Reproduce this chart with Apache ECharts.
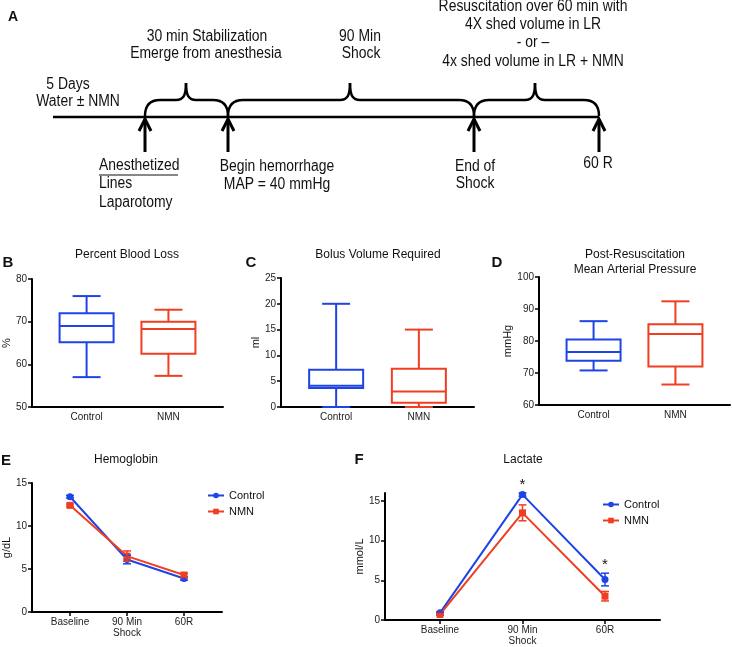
<!DOCTYPE html>
<html><head><meta charset="utf-8">
<script src="https://cdn.jsdelivr.net/npm/echarts@6/dist/echarts.min.js"></script>
<style>html,body{margin:0;padding:0;background:#fff}#c{width:732px;height:647px}</style>
</head><body><div id="c"></div>
<script>
// ---------- DATA ----------
const boxCategories = ['Control', 'NMN'];
// [min, Q1, median, Q3, max]
const bloodLossControl = [57, 65.2, 69, 72, 76];
const bloodLossNMN = [57.3, 62.5, 68.3, 70, 72.8];
const bolusControl = [0, 3.7, 4.1, 7.2, 20];
const bolusNMN = [0, 0.8, 3, 7.4, 15];
const mapControl = [70.8, 73.8, 76.6, 80.5, 86.2];
const mapNMN = [66.4, 72, 82.2, 85.2, 92.4];

const timeCategories = ['Baseline', '90 Min\nShock', '60R'];
const hbControlMean = [13.4, 6.1, 3.9];
const hbControlErr = [0.15, 0.5, 0.2];
const hbNMNMean = [12.4, 6.5, 4.3];
const hbNMNErr = [0.15, 0.6, 0.2];
const lacControlMean = [0.9, 15.8, 5.1];
const lacControlErr = [0.1, 0.2, 0.8];
const lacNMNMean = [0.7, 13.5, 3.0];
const lacNMNErr = [0.1, 1.0, 0.6];
const lacSignificant = [false, true, true];

const hbTicks = [0, 5, 10, 15];
const lacTicks = [0, 5, 10, 15];
const bloodLossTicks = [50, 60, 70, 80];
const bolusTicks = [0, 5, 10, 15, 20, 25];
const mapTicks = [60, 70, 80, 90, 100];

// ---------- STYLE ----------
const BLUE = '#1f44e6';
const RED = '#ef3e22';
const FONT = '"Liberation Sans", Arial, Helvetica, sans-serif';

const chart = echarts.init(document.getElementById('c'), null, {renderer: 'canvas'});

function boxRender(color) {
  return function (params, api) {
    const x = api.value(0);
    const lo = api.coord([x, api.value(1)]);
    const q1 = api.coord([x, api.value(2)]);
    const md = api.coord([x, api.value(3)]);
    const q3 = api.coord([x, api.value(4)]);
    const hi = api.coord([x, api.value(5)]);
    const cx = lo[0], hw = 27, cw = 14;
    const st = () => ({stroke: color, lineWidth: 2, fill: null});
    return {type: 'group', children: [
      {type: 'line', shape: {x1: cx, y1: q3[1], x2: cx, y2: hi[1]}, style: st()},
      {type: 'line', shape: {x1: cx - cw, y1: hi[1], x2: cx + cw, y2: hi[1]}, style: st()},
      {type: 'line', shape: {x1: cx, y1: q1[1], x2: cx, y2: lo[1]}, style: st()},
      {type: 'line', shape: {x1: cx - cw, y1: lo[1], x2: cx + cw, y2: lo[1]}, style: st()},
      {type: 'rect', shape: {x: cx - hw, y: q3[1], width: 2 * hw, height: q1[1] - q3[1]}, style: st()},
      {type: 'line', shape: {x1: cx - hw, y1: md[1], x2: cx + hw, y2: md[1]}, style: st()}
    ]};
  };
}
function errRender(color) {
  return function (params, api) {
    const x = api.value(0), m = api.value(1), e = api.value(2);
    const top = api.coord([x, m + e]);
    const bot = api.coord([x, m - e]);
    const st = () => ({stroke: color, lineWidth: 1.5});
    return {type: 'group', children: [
      {type: 'line', shape: {x1: top[0], y1: top[1], x2: bot[0], y2: bot[1]}, style: st()},
      {type: 'line', shape: {x1: top[0] - 4, y1: top[1], x2: top[0] + 4, y2: top[1]}, style: st()},
      {type: 'line', shape: {x1: bot[0] - 4, y1: bot[1], x2: bot[0] + 4, y2: bot[1]}, style: st()}
    ]};
  };
}
function starRender(params, api) {
  const p = api.coord([api.value(0), api.value(1)]);
  return {type: 'text', x: p[0], y: p[1] - 1, style: {text: '*', fontSize: 15, fontFamily: FONT, fill: '#111', align: 'center', verticalAlign: 'bottom'}};
}

function yAx(grid, min, max, ticks, name, gap) {
  return {
    type: 'value', gridIndex: grid, min: min, max: max,
    name: name, nameLocation: 'middle', nameRotate: 90, nameGap: gap,
    nameTextStyle: {fontSize: 11, color: '#111', fontFamily: FONT},
    axisLine: {show: true, onZero: false, lineStyle: {color: '#000', width: 2}},
    axisTick: {show: true, length: 4, customValues: ticks, lineStyle: {color: '#000', width: 1.5}},
    axisLabel: {fontSize: 10, color: '#222', margin: 5, fontFamily: FONT, customValues: ticks},
    splitLine: {show: false}
  };
}
function xAx(grid, cats, max, showTick) {
  const vals = cats.map((c, i) => i);
  return {
    type: 'value', gridIndex: grid, min: -2 / 3, max: max,
    axisLine: {show: true, onZero: false, lineStyle: {color: '#000', width: 2}},
    axisTick: {show: showTick, length: 4, customValues: vals, lineStyle: {color: '#000', width: 1.5}},
    axisLabel: {fontSize: 10, color: '#222', margin: 5, fontFamily: FONT, lineHeight: 11,
      customValues: vals, formatter: v => cats[Math.round(v)]},
    splitLine: {show: false}
  };
}

const pts = arr => arr.map((v, i) => [i, v]);
const errs = (m, e) => m.map((v, i) => [i, v, e[i]]);

// ---------- PANEL A (schematic) ----------
const tl = {y: 117, x0: 53, stops: [145, 228, 474, 599]};
const BR = {stroke: '#000', lineWidth: 2.5, fill: null};
function brace(x1, x2, xm) {
  const yb = 116, yh = 100, yp = 83;
  return [
    {type: 'bezierCurve', shape: {x1: x1, y1: yb, cpx1: x1, cpy1: yh + 6, cpx2: x1 + 5, cpy2: yh, x2: x1 + 15, y2: yh}, style: BR},
    {type: 'line', shape: {x1: x1 + 15, y1: yh, x2: xm - 10, y2: yh}, style: BR},
    {type: 'bezierCurve', shape: {x1: xm - 10, y1: yh, cpx1: xm - 3, cpy1: yh, cpx2: xm, cpy2: yh - 4, x2: xm, y2: yp}, style: BR},
    {type: 'bezierCurve', shape: {x1: xm, y1: yp, cpx1: xm, cpy1: yh - 4, cpx2: xm + 3, cpy2: yh, x2: xm + 10, y2: yh}, style: BR},
    {type: 'line', shape: {x1: xm + 10, y1: yh, x2: x2 - 15, y2: yh}, style: BR},
    {type: 'bezierCurve', shape: {x1: x2 - 15, y1: yh, cpx1: x2 - 5, cpy1: yh, cpx2: x2, cpy2: yh + 6, x2: x2, y2: yb}, style: BR}
  ];
}
function aText(t, x, y, align) {
  return {type: 'text', x: x, y: y, scaleX: 0.87, style: {text: t, fontSize: 16, fontFamily: FONT, fill: '#111', align: align || 'center', verticalAlign: 'middle'}};
}
function label(t, x, y, size, bold, align) {
  return {type: 'text', x: x, y: y, style: {text: t, fontSize: size, fontWeight: bold ? 'bold' : 'normal', fontFamily: FONT, fill: '#111', align: align || 'center', verticalAlign: 'middle'}};
}
const graphics = [];
graphics.push({type: 'line', shape: {x1: tl.x0, y1: tl.y, x2: tl.stops[3], y2: tl.y}, style: {stroke: '#000', lineWidth: 2.5}});
tl.stops.forEach(x => {
  graphics.push({type: 'line', shape: {x1: x, y1: 119, x2: x, y2: 152}, style: {stroke: '#000', lineWidth: 3}});
  graphics.push({type: 'polyline', shape: {points: [[x - 6, 131], [x, 119], [x + 6, 131]]}, style: {stroke: '#000', lineWidth: 3, fill: null}});
});
[[145, 228, 186], [228, 474, 350], [474, 599, 535]].forEach(b => {
  brace(b[0], b[1], b[2]).forEach(el => graphics.push(el));
});
graphics.push(
  label('A', 8, 17, 14, true, 'left'),
  aText('Resuscitation over 60 min with', 533, 7),
  aText('4X shed volume in LR', 533, 25),
  aText('- or –', 533, 43),
  aText('4x shed volume in LR + NMN', 533, 62),
  aText('30 min Stabilization', 207, 37),
  aText('Emerge from anesthesia', 206, 54),
  aText('90 Min', 360, 37),
  aText('Shock', 361, 54),
  aText('5 Days', 68, 85),
  aText('Water ± NMN', 78, 102),
  aText('Anesthetized', 99, 166, 'left'),
  {type: 'line', shape: {x1: 99, y1: 175, x2: 178, y2: 175}, style: {stroke: '#111', lineWidth: 1}},
  aText('Lines', 99, 184, 'left'),
  aText('Laparotomy', 99, 203, 'left'),
  aText('Begin hemorrhage', 277, 167),
  aText('MAP = 40 mmHg', 277, 185),
  aText('End of', 475, 167),
  aText('Shock', 475, 184),
  aText('60 R', 598, 164),
  label('B', 8, 263, 15, true),
  label('Percent Blood Loss', 127, 255, 12),
  label('C', 251, 263, 15, true),
  label('Bolus Volume Required', 378, 255, 12),
  label('D', 497, 263, 15, true),
  label('Post-Resuscitation', 635, 255, 12),
  label('Mean Arterial Pressure', 635, 270, 12),
  label('E', 6, 461, 15, true),
  label('Hemoglobin', 126, 460, 12),
  label('F', 359, 460, 15, true),
  label('Lactate', 523, 460, 12)
);

const lineSeries = (name, data, color, symbol, xi) => ({
  type: 'line', name: name, xAxisIndex: xi, yAxisIndex: xi, data: data,
  symbol: symbol, symbolSize: 7, itemStyle: {color: color},
  lineStyle: {color: color, width: 2}, z: 3, animation: false
});
const custom = (render, data, xi, z) => ({
  type: 'custom', renderItem: render, data: data, xAxisIndex: xi, yAxisIndex: xi,
  z: z || 4, animation: false, silent: true
});

const option = {
  animation: false,
  backgroundColor: '#fff',
  textStyle: {fontFamily: FONT},
  grid: [
    {left: 30, top: 279, width: 193, height: 128},
    {left: 281, top: 278, width: 193, height: 129},
    {left: 539, top: 277, width: 191, height: 128},
    {left: 30, top: 483, width: 192, height: 129},
    {left: 385, top: 493, width: 275, height: 129}
  ],
  xAxis: [
    xAx(0, boxCategories, 5 / 3, false),
    xAx(1, boxCategories, 5 / 3, false),
    xAx(2, boxCategories, 5 / 3, false),
    xAx(3, timeCategories, 8 / 3, true),
    xAx(4, timeCategories, 8 / 3, true)
  ],
  yAxis: [
    yAx(0, 50, 80, bloodLossTicks, '%', 18),
    yAx(1, 0, 25, bolusTicks, 'ml', 18),
    yAx(2, 60, 100, mapTicks, 'mmHg', 24),
    yAx(3, 0, 15, hbTicks, 'g/dL', 18),
    yAx(4, 0, 16, lacTicks, 'mmol/L', 18)
  ],
  legend: [
    {orient: 'vertical', left: 202, top: 485, itemWidth: 16, itemHeight: 7, itemGap: 5,
      data: ['Control', 'NMN'], textStyle: {fontSize: 11, color: '#111', fontFamily: FONT}, selectedMode: false},
    {orient: 'vertical', left: 597, top: 494, itemWidth: 16, itemHeight: 7, itemGap: 5,
      data: ['Control', 'NMN'], textStyle: {fontSize: 11, color: '#111', fontFamily: FONT}, selectedMode: false}
  ],
  graphic: graphics,
  series: [
    custom(boxRender(BLUE), [[0].concat(bloodLossControl)], 0),
    custom(boxRender(RED), [[1].concat(bloodLossNMN)], 0),
    custom(boxRender(BLUE), [[0].concat(bolusControl)], 1),
    custom(boxRender(RED), [[1].concat(bolusNMN)], 1),
    custom(boxRender(BLUE), [[0].concat(mapControl)], 2),
    custom(boxRender(RED), [[1].concat(mapNMN)], 2),

    lineSeries('Control', pts(hbControlMean), BLUE, 'circle', 3),
    lineSeries('NMN', pts(hbNMNMean), RED, 'rect', 3),
    custom(errRender(BLUE), errs(hbControlMean, hbControlErr), 3),
    custom(errRender(RED), errs(hbNMNMean, hbNMNErr), 3),

    lineSeries('Control', pts(lacControlMean), BLUE, 'circle', 4),
    lineSeries('NMN', pts(lacNMNMean), RED, 'rect', 4),
    custom(errRender(BLUE), errs(lacControlMean, lacControlErr), 4),
    custom(errRender(RED), errs(lacNMNMean, lacNMNErr), 4),
    custom(starRender, lacControlMean.map((v, i) => [i, v + lacControlErr[i]]).filter((d, i) => lacSignificant[i]), 4)
  ]
};
chart.setOption(option);
</script>
</body></html>
